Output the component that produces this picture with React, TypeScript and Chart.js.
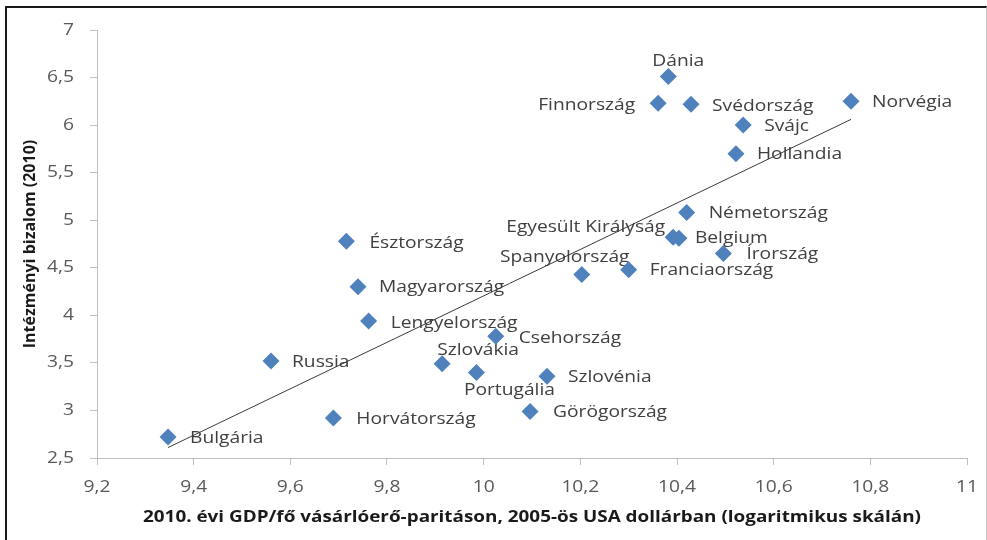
import React, { useEffect, useRef } from "react";
import { Chart, registerables } from "chart.js";

Chart.register(...registerables);

const countries = [
  "Bulgária", "Russia", "Horvátország", "Észtország", "Magyarország", "Lengyelország",
  "Szlovákia", "Portugália", "Csehország", "Görögország", "Szlovénia", "Spanyolország",
  "Franciaország", "Egyesült Királyság", "Belgium", "Németország", "Írország", "Hollandia",
  "Svájc", "Svédország", "Finnország", "Dánia", "Norvégia",
];
const gdp = [
  9.347, 9.56, 9.689, 9.716, 9.74, 9.762,
  9.914, 9.985, 10.025, 10.096, 10.131, 10.203,
  10.3, 10.392, 10.404, 10.42, 10.496, 10.522,
  10.537, 10.429, 10.361, 10.382, 10.76,
];
const trust = [
  2.72, 3.52, 2.92, 4.78, 4.3, 3.94,
  3.49, 3.4, 3.78, 2.99, 3.36, 4.43,
  4.48, 4.82, 4.81, 5.08, 4.65, 5.7,
  6.0, 6.22, 6.23, 6.51, 6.25,
];
// trend line endpoints (x, y)
const trendX = [9.347, 10.76];
const trendY = [2.61, 6.06];

const xTitle = "2010. évi GDP/fő vásárlóerő-paritáson, 2005-ös USA dollárban (logaritmikus skálán)";
const yTitle = "Intézményi bizalom (2010)";

// label placement: [dx, dy, align]
const labelPlace: [number, number, CanvasTextAlign][] = [
  [22, 1, "left"], [21, 1, "left"], [23, 1, "left"], [23, 2, "left"], [21, 1, "left"], [22, 2, "left"],
  [36, -13, "center"], [33, 18, "center"], [23, 2, "left"], [23, 1, "left"], [21, 1, "left"], [-17, -17, "center"],
  [21, 1, "left"], [-8, -10, "right"], [16, 0, "left"], [22, 1, "left"], [23, 1, "left"], [21, 1, "left"],
  [21, 1, "left"], [21, 2, "left"], [-23, 2, "right"], [10, -15, "center"], [21, 1, "left"],
];

const FONT = "'Open Sans', 'DejaVu Sans', sans-serif";
const SX = 1.2;

const fmt = (v: number) => String(Number(v.toFixed(1))).replace(".", ",");

function drawText(ctx: CanvasRenderingContext2D, text: string, x: number, y: number, align: CanvasTextAlign, sx: number) {
  ctx.save();
  ctx.translate(x, y);
  ctx.scale(sx, 1);
  ctx.textAlign = align;
  ctx.textBaseline = "middle";
  ctx.fillText(text, 0, 0);
  ctx.restore();
}

const textPlugin = {
  id: "customTexts",
  beforeDatasetsDraw(chart: any) {
    const meta = chart.getDatasetMeta(0);
    const ctx = chart.ctx;
    ctx.save();
    ctx.font = `16px ${FONT}`;
    ctx.fillStyle = "#404040";
    meta.data.forEach((el: any, i: number) => {
      const [dx, dy, al] = labelPlace[i];
      drawText(ctx, countries[i], el.x + dx, el.y + dy, al, SX);
    });
    ctx.restore();
  },
  afterDraw(chart: any) {
    const ctx = chart.ctx;
    const xs = chart.scales.x;
    const ys = chart.scales.y;
    ctx.save();
    ctx.font = `16px ${FONT}`;
    ctx.fillStyle = "#595959";
    xs.ticks.forEach((t: any) => {
      drawText(ctx, fmt(t.value), xs.getPixelForValue(t.value), xs.top + 29, "center", SX);
    });
    ys.ticks.forEach((t: any) => {
      drawText(ctx, fmt(t.value), ys.right - 23, ys.getPixelForValue(t.value), "right", SX);
    });
    ctx.font = `bold 16px ${FONT}`;
    ctx.fillStyle = "#1a1a1a";
    const ca = chart.chartArea;
    drawText(ctx, xTitle, (ca.left + ca.right) / 2, 517, "center", 1.18);
    ctx.restore();
  },
};

export default function App() {
  const ref = useRef<HTMLCanvasElement>(null);
  useEffect(() => {
    if (!ref.current) return;
    const chart = new Chart(ref.current, {
      type: "scatter",
      data: {
        datasets: [
          {
            label: "Országok",
            data: gdp.map((x, i) => ({ x, y: trust[i] })),
            backgroundColor: "#4f81bd",
            borderColor: "#4f81bd",
            pointStyle: "rectRot",
            pointRadius: 8.5,
            pointHoverRadius: 8.5,
            borderWidth: 0,
            order: 1,
          },
          {
            type: "line",
            label: "Trend",
            data: trendX.map((x, i) => ({ x, y: trendY[i] })),
            borderColor: "#3a3a3a",
            borderWidth: 1,
            pointRadius: 0,
            showLine: true,
            fill: false,
            order: 0,
          } as any,
        ],
      },
      options: {
        animation: false,
        responsive: false,
        maintainAspectRatio: false,
        layout: { padding: { top: 30, right: 20, left: 0, bottom: 0 } },
        plugins: { legend: { display: false }, tooltip: { enabled: false } },
        scales: {
          x: {
            type: "linear",
            min: 9.2,
            max: 11,
            ticks: { stepSize: 0.2, display: false },
            grid: { drawOnChartArea: false, tickLength: 7, color: "#bfbfbf" },
            border: { color: "#bfbfbf" },
            afterFit: (s: any) => { s.height = 82; },
          },
          y: {
            type: "linear",
            min: 2.5,
            max: 7,
            ticks: { stepSize: 0.5, display: false },
            grid: { drawOnChartArea: false, tickLength: 7, color: "#bfbfbf" },
            border: { color: "#bfbfbf" },
            title: {
              display: true,
              text: yTitle,
              color: "#1a1a1a",
              font: { family: FONT, size: 16, weight: "bold" },
              padding: { top: 21, bottom: 0 },
            },
            afterFit: (s: any) => { s.width = 97; },
          },
        },
      },
      plugins: [textPlugin],
    });
    return () => chart.destroy();
  }, []);

  return (
    <div style={{ position: "absolute", left: 0, top: 0, width: 987, height: 540, background: "#fff", overflow: "hidden" }}>
      <canvas ref={ref} width={987} height={540} style={{ position: "absolute", left: 0, top: 0, width: 987, height: 540 }} />
      <div
        style={{
          position: "absolute", left: 5, top: 6, width: 979, height: 560,
          borderLeft: "2px solid #1a1a1a", borderTop: "2px solid #1a1a1a", borderRight: "1px solid #c8c8c8",
          pointerEvents: "none",
        }}
      />
    </div>
  );
}
